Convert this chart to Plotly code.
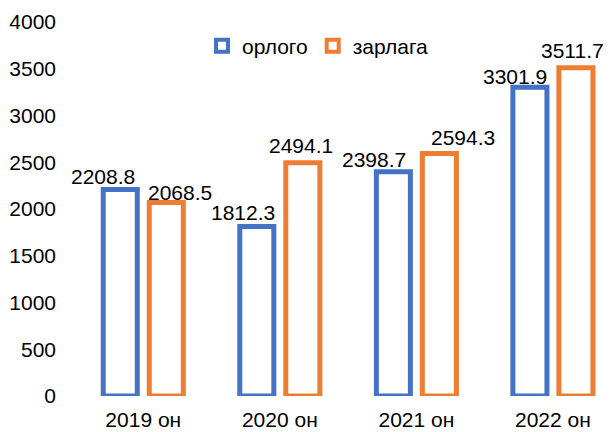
import plotly.graph_objects as go

categories = ["2019 он", "2020 он", "2021 он", "2022 он"]
orlogo = [2208.8, 1812.3, 2398.7, 3301.9]
zarlaga = [2068.5, 2494.1, 2594.3, 3511.7]
series_names = ["орлого", "зарлага"]
y_ticks = [0, 500, 1000, 1500, 2000, 2500, 3000, 3500, 4000]

BLUE = "#4472C4"
ORANGE = "#ED7D31"
FONT = "Liberation Sans, Arial, sans-serif"
FS = 21

# label placement offsets (pixels) relative to category center / value
blue_dx = [-40, -37, -42, -38]
blue_dy = [13, 14, 12, 11]
orange_dx = [37, 21, 47, 20]
orange_dy = [10, 17, 16, 17]

fig = go.Figure()
for name, vals, col in [(series_names[0], orlogo, BLUE), (series_names[1], zarlaga, ORANGE)]:
    fig.add_trace(go.Bar(
        x=categories, y=vals, name=name, showlegend=False,
        marker=dict(color="white", line=dict(color=col, width=5)),
        hoverinfo="skip",
    ))
    # legend entries
    fig.add_trace(go.Scatter(
        x=[None], y=[None], mode="markers", name=name,
        marker=dict(symbol="square", size=12, color="white", line=dict(color=col, width=4)),
    ))

annotations = []
for vals, dxs, dys in [(orlogo, blue_dx, blue_dy), (zarlaga, orange_dx, orange_dy)]:
    for c, v, dx, dy in zip(categories, vals, dxs, dys):
        annotations.append(dict(
            x=c, y=v, xref="x", yref="y", text=f"{v:.1f}", showarrow=False,
            xshift=dx, yshift=dy, yanchor="middle", xanchor="center",
            font=dict(family=FONT, size=FS, color="#000000"),
        ))

fig.update_layout(
    width=613, height=432,
    margin=dict(l=75, r=0, t=22, b=36, autoexpand=False),
    paper_bgcolor="white", plot_bgcolor="white",
    barmode="group", bargap=0.326, bargroupgap=0.26,
    font=dict(family=FONT, size=FS, color="#000000"),
    annotations=annotations,
    legend=dict(
        orientation="h", xref="paper", yref="paper",
        x=(202 - 75) / 538, xanchor="left", y=(396 - 46) / 374, yanchor="middle",
        font=dict(family=FONT, size=FS, color="#000000"),
        bgcolor="rgba(0,0,0,0)", itemclick=False,
    ),
    xaxis=dict(
        type="category", range=[-0.5, 3.44], showgrid=False, zeroline=False,
        showline=False, ticks="", ticklabelstandoff=9,
        tickfont=dict(family=FONT, size=FS, color="#000000"),
    ),
    yaxis=dict(
        range=[0, 4000], tickvals=y_ticks, showgrid=False, zeroline=False,
        showline=False, ticks="", ticklabelstandoff=18,
        tickfont=dict(family=FONT, size=FS, color="#000000"),
    ),
)

fig.write_html(
    "out.html",
    config={"displayModeBar": False},
    post_script="document.body.style.margin='0';document.body.style.overflow='hidden';",
)
